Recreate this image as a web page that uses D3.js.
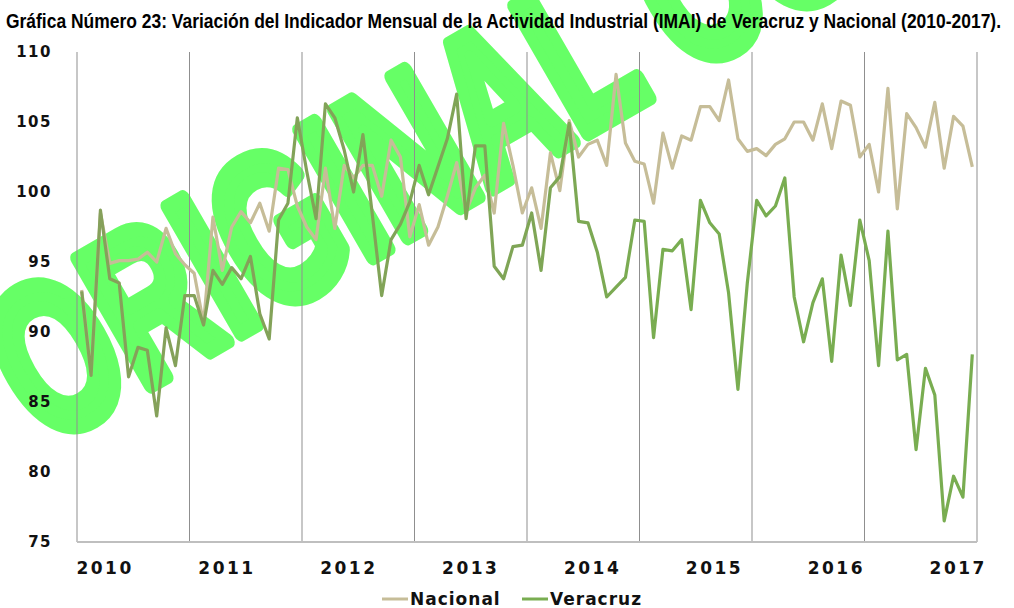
<!DOCTYPE html>
<html>
<head>
<meta charset="utf-8">
<script src="https://cdn.jsdelivr.net/npm/d3@7"></script>
<style>
  body { margin: 0; background: #fff; }
  svg { display: block; }
</style>
</head>
<body>
<div id="chart"></div>
<script>
// IMAI mensual, Veracruz vs Nacional, ene-2010 .. dic-2017 (96 meses)
const years = ["2010", "2011", "2012", "2013", "2014", "2015", "2016", "2017"];

const nacional = [
  93.0, 87.0, 98.5, 94.9, 95.1, 95.1, 95.2, 95.7, 95.0, 97.4, 95.6, 94.8,
  94.2, 90.6, 98.2, 94.4, 97.5, 98.6, 97.8, 99.2, 97.2, 101.7, 101.6, 99.0,
  97.5, 96.6, 101.7, 97.4, 101.9, 101.0, 101.9, 101.9, 99.7, 103.7, 102.5, 96.8,
  99.1, 96.2, 97.5, 99.7, 102.1, 98.6, 100.3, 101.2, 98.5, 104.9, 101.9, 98.5,
  100.3, 97.4, 102.8, 100.1, 105.1, 102.5, 103.4, 103.7, 101.9, 108.4, 103.5, 102.2,
  102.0, 99.2, 104.2, 101.7, 104.0, 103.7, 106.1, 106.1, 105.1, 108.0, 103.8, 102.9,
  103.1, 102.6, 103.4, 103.8, 105.0, 105.0, 103.7, 106.3, 103.1, 106.5, 106.2, 102.5,
  103.4, 100.0, 107.4, 98.8, 105.6, 104.6, 103.2, 106.4, 101.7, 105.4, 104.7, 101.8
];

const veracruz = [
  92.9, 86.9, 98.7, 93.8, 93.5, 86.8, 88.9, 88.7, 84.0, 90.3, 87.6, 92.6,
  92.6, 90.5, 94.4, 93.4, 94.6, 93.8, 95.4, 91.3, 89.5, 98.0, 99.2, 105.3,
  101.5, 98.1, 106.3, 105.3, 103.0, 100.0, 104.1, 98.4, 92.6, 96.6, 97.7, 99.3,
  101.9, 99.8, 101.8, 103.8, 107.0, 98.1, 103.3, 103.3, 94.7, 93.8, 96.1, 96.2,
  98.5, 94.4, 100.3, 101.1, 104.9, 97.9, 97.8, 95.7, 92.5, 93.2, 93.9, 98.0,
  97.9, 89.6, 95.9, 95.8, 96.6, 91.6, 99.4, 97.8, 97.0, 92.8, 85.9, 93.5,
  99.4, 98.3, 99.0, 101.0, 92.5, 89.3, 92.1, 93.8, 87.9, 95.5, 91.9, 98.0,
  95.1, 87.6, 97.2, 88.0, 88.4, 81.6, 87.4, 85.5, 76.5, 79.7, 78.2, 88.4
];

const yTicks = [75, 80, 85, 90, 95, 100, 105, 110];

const title = "Gráfica Número 23: Variación del Indicador Mensual de la Actividad Industrial (IMAI) de Veracruz y Nacional (2010-2017).";

// layout
const width = 1014, height = 608;
const margin = { top: 52, right: 37, bottom: 66, left: 77 };
const axisFont = "'DejaVu Sans', Verdana, sans-serif";

const svg = d3.select("#chart").append("svg")
  .attr("width", width)
  .attr("height", height);

// scales: one band per month
const months = d3.range(nacional.length);
const x = d3.scaleBand()
  .domain(months)
  .range([margin.left, width - margin.right]);
const y = d3.scaleLinear()
  .domain([75, 110])
  .range([height - margin.bottom, margin.top]);

// watermark (sits behind everything), outlined to get the heavy strokes
svg.append("text")
  .attr("transform", "translate(44,447) rotate(-30) scale(0.68,1)")
  .attr("font-family", "'Liberation Sans', Arial, sans-serif")
  .attr("font-weight", "bold")
  .attr("font-size", 212)
  .attr("fill", "#66ff66")
  .attr("stroke", "#66ff66")
  .attr("stroke-width", 16)
  .attr("stroke-linejoin", "round")
  .text("ORIGINAL COPY");

// title
svg.append("text")
  .attr("x", 6)
  .attr("y", 28)
  .attr("textLength", 995)
  .attr("lengthAdjust", "spacingAndGlyphs")
  .attr("font-family", "'Liberation Sans Narrow', 'Arial Narrow', 'Liberation Sans', Arial, sans-serif")
  .attr("font-weight", "bold")
  .attr("font-size", 20)
  .attr("fill", "#000")
  .text(title);

// vertical gridlines every 12 months
const gridX = d3.range(0, months.length + 1, 12)
  .map(i => i < months.length ? x(i) : x.range()[1]);

svg.append("g")
  .selectAll("line")
  .data(gridX)
  .join("line")
  .attr("x1", d => d).attr("x2", d => d)
  .attr("y1", y(110)).attr("y2", y(75))
  .attr("stroke", "#8f8f8f")
  .attr("stroke-width", 1);

// bottom axis line
svg.append("line")
  .attr("x1", x.range()[0]).attr("x2", x.range()[1])
  .attr("y1", y(75)).attr("y2", y(75))
  .attr("stroke", "#bfbfbf")
  .attr("stroke-width", 2);

// y labels
svg.append("g")
  .selectAll("text")
  .data(yTicks)
  .join("text")
  .attr("x", 52)
  .attr("y", d => y(d))
  .attr("dy", "0.36em")
  .attr("text-anchor", "end")
  .attr("font-family", axisFont)
  .attr("font-weight", "bold")
  .attr("font-size", 15)
  .attr("letter-spacing", 1.5)
  .attr("fill", "#111")
  .text(d => d);

// year labels (Excel put them every 13 categories)
svg.append("g")
  .selectAll("text")
  .data(years)
  .join("text")
  .attr("x", (d, k) => x(13 * k + 3))
  .attr("y", 574)
  .attr("text-anchor", "middle")
  .attr("font-family", axisFont)
  .attr("font-weight", "bold")
  .attr("font-size", 17)
  .attr("letter-spacing", 2.5)
  .attr("fill", "#111")
  .text(d => d);

// gradient for the veracruz line (olive early, greener later)
const grad = svg.append("defs").append("linearGradient")
  .attr("id", "verGrad")
  .attr("gradientUnits", "userSpaceOnUse")
  .attr("x1", x.range()[0]).attr("x2", x.range()[1])
  .attr("y1", 0).attr("y2", 0);
grad.selectAll("stop")
  .data([[0, "#86a05b"], [0.5, "#7fa556"], [0.65, "#79ad51"], [1, "#79ad51"]])
  .join("stop")
  .attr("offset", d => d[0])
  .attr("stop-color", d => d[1]);

const line = d3.line()
  .x((d, i) => x(i) + x.bandwidth() / 2)
  .y(d => y(d));

svg.append("path")
  .datum(nacional)
  .attr("d", line)
  .attr("fill", "none")
  .attr("stroke", "#c6bd98")
  .attr("stroke-width", 3.2)
  .attr("stroke-linejoin", "round");

svg.append("path")
  .datum(veracruz)
  .attr("d", line)
  .attr("fill", "none")
  .attr("stroke", "url(#verGrad)")
  .attr("stroke-width", 3.2)
  .attr("stroke-linejoin", "round");

// legend
const legend = [
  { name: "Nacional", color: "#c6bd98", x: 382 },
  { name: "Veracruz", color: "#79ad51", x: 522 }
];
const lg = svg.append("g")
  .selectAll("g")
  .data(legend)
  .join("g")
  .attr("transform", d => `translate(${d.x},599)`);
lg.append("line")
  .attr("x1", 0).attr("x2", 26)
  .attr("stroke", d => d.color)
  .attr("stroke-width", 3);
lg.append("text")
  .attr("x", 28)
  .attr("y", 6)
  .attr("font-family", axisFont)
  .attr("font-weight", "bold")
  .attr("font-size", 17)
  .attr("letter-spacing", 1)
  .attr("fill", "#111")
  .text(d => d.name);
</script>
</body>
</html>
